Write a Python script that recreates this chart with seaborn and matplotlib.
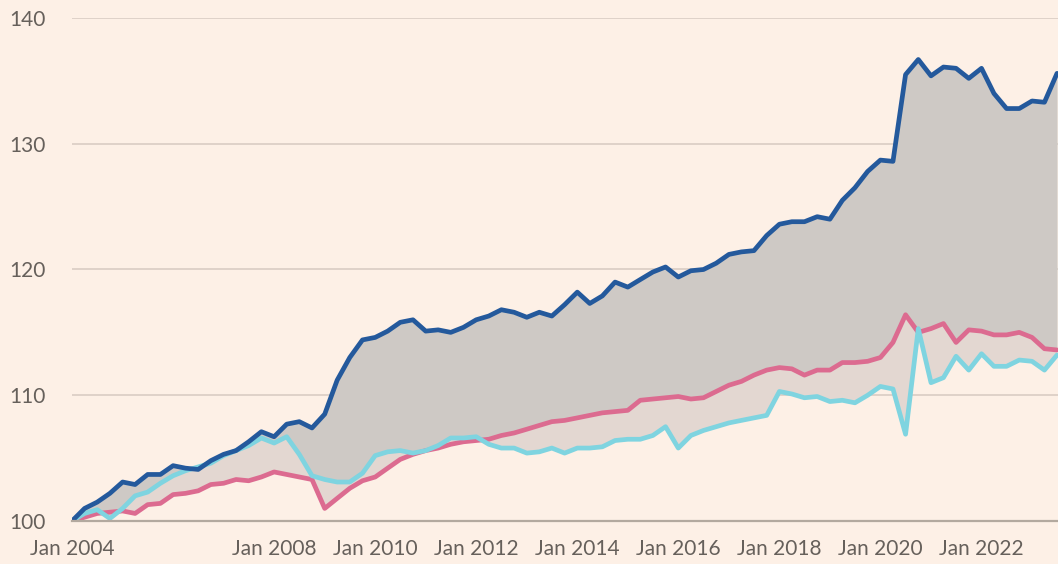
import pandas as pd
import numpy as np
import matplotlib
matplotlib.use("Agg")
import matplotlib.pyplot as plt
import seaborn as sns

# quarterly index values, Jan 2004 = 100
dates = pd.date_range("2004-01-01", "2023-07-01", freq="QS")

blue_vals = [
    100.0, 101.0, 101.5, 102.2,
    103.1, 102.9, 103.7, 103.7,
    104.4, 104.2, 104.1, 104.8,
    105.3, 105.6, 106.3, 107.1,
    106.7, 107.7, 107.9, 107.4,
    108.5, 111.2, 113.0, 114.4,
    114.6, 115.1, 115.8, 116.0,
    115.1, 115.2, 115.0, 115.4,
    116.0, 116.3, 116.8, 116.6,
    116.2, 116.6, 116.3, 117.2,
    118.2, 117.3, 117.9, 119.0,
    118.6, 119.2, 119.8, 120.2,
    119.4, 119.9, 120.0, 120.5,
    121.2, 121.4, 121.5, 122.7,
    123.6, 123.8, 123.8, 124.2,
    124.0, 125.5, 126.5, 127.8,
    128.7, 128.6, 135.5, 136.7,
    135.4, 136.1, 136.0, 135.2,
    136.0, 134.0, 132.8, 132.8,
    133.4, 133.3, 135.6,
]

pink_vals = [
    100.0, 100.3, 100.6, 100.7,
    100.8, 100.6, 101.3, 101.4,
    102.1, 102.2, 102.4, 102.9,
    103.0, 103.3, 103.2, 103.5,
    103.9, 103.7, 103.5, 103.3,
    101.0, 101.8, 102.6, 103.2,
    103.5, 104.2, 104.9, 105.3,
    105.6, 105.8, 106.1, 106.3,
    106.4, 106.5, 106.8, 107.0,
    107.3, 107.6, 107.9, 108.0,
    108.2, 108.4, 108.6, 108.7,
    108.8, 109.6, 109.7, 109.8,
    109.9, 109.7, 109.8, 110.3,
    110.8, 111.1, 111.6, 112.0,
    112.2, 112.1, 111.6, 112.0,
    112.0, 112.6, 112.6, 112.7,
    113.0, 114.2, 116.4, 115.0,
    115.3, 115.7, 114.2, 115.2,
    115.1, 114.8, 114.8, 115.0,
    114.6, 113.7, 113.6,
]

cyan_vals = [
    100.0, 100.6, 100.9, 100.2,
    101.0, 102.0, 102.3, 103.0,
    103.6, 104.0, 104.3, 104.6,
    105.2, 105.6, 106.0, 106.6,
    106.2, 106.7, 105.3, 103.6,
    103.3, 103.1, 103.1, 103.8,
    105.2, 105.5, 105.6, 105.4,
    105.6, 106.0, 106.6, 106.6,
    106.7, 106.1, 105.8, 105.8,
    105.4, 105.5, 105.8, 105.4,
    105.8, 105.8, 105.9, 106.4,
    106.5, 106.5, 106.8, 107.5,
    105.8, 106.8, 107.2, 107.5,
    107.8, 108.0, 108.2, 108.4,
    110.3, 110.1, 109.8, 109.9,
    109.5, 109.6, 109.4, 110.0,
    110.7, 110.5, 106.9, 115.3,
    111.0, 111.4, 113.1, 112.0,
    113.3, 112.3, 112.3, 112.8,
    112.7, 112.0, 113.2,
]

y_ticks = [100, 110, 120, 130, 140]
x_tick_years = [2004, 2006, 2008, 2010, 2012, 2014, 2016, 2018, 2020, 2022]
x_tick_labels = ["Jan 2004", "", "Jan 2008", "Jan 2010", "Jan 2012", "Jan 2014",
                 "Jan 2016", "Jan 2018", "Jan 2020", "Jan 2022"]

BG = "#fdf0e6"
BLUE = "#24599c"
PINK = "#dc6b90"
CYAN = "#7fd4e0"
TEXT = "#66605b"

df = pd.DataFrame({"date": dates, "blue": blue_vals, "pink": pink_vals, "cyan": cyan_vals})

sns.set_style("white", {"axes.facecolor": BG, "figure.facecolor": BG})
plt.rcParams["font.family"] = ["Lato", "DejaVu Sans"]

fig = plt.figure(figsize=(10.58, 5.64), dpi=100)
ax = fig.add_axes([72 / 1058, 43 / 564, 986 / 1058, 503 / 564])

# grid lines (under the fills)
for v in y_ticks[1:]:
    ax.axhline(v, color="#d9cdc4", lw=1.2, zorder=0)

upper_other = np.maximum(df["pink"], df["cyan"])
ax.fill_between(df["date"], df["pink"], df["cyan"], color="#e3d7d1", lw=0, zorder=1)
ax.fill_between(df["date"], df["blue"], upper_other, color="#cec9c5", lw=0, zorder=1)

line_kw = dict(lw=3.4, solid_capstyle="round", solid_joinstyle="round")
sns.lineplot(data=df, x="date", y="pink", color=PINK, ax=ax, zorder=3, **line_kw)
sns.lineplot(data=df, x="date", y="cyan", color=CYAN, ax=ax, zorder=4, **line_kw)
sns.lineplot(data=df, x="date", y="blue", color=BLUE, ax=ax, zorder=5, **line_kw)

ax.set_xlim(pd.Timestamp("2004-01-01"), pd.Timestamp("2023-07-08"))
ax.set_ylim(100, 140)
ax.set_xlabel("")
ax.set_ylabel("")

ax.set_yticks(y_ticks)
ax.set_yticklabels([str(v) for v in y_ticks])
ax.set_xticks([pd.Timestamp(f"{y}-01-01") for y in x_tick_years])
ax.set_xticklabels(x_tick_labels)

ax.tick_params(axis="y", length=0, pad=19, labelsize=15, labelcolor=TEXT)
ax.tick_params(axis="x", length=8, width=1.3, color="#b3a99f", direction="out",
               pad=5, labelsize=15, labelcolor=TEXT)

for side in ["top", "right", "left"]:
    ax.spines[side].set_visible(False)
ax.spines["bottom"].set_color("#b3a99f")
ax.spines["bottom"].set_linewidth(1.6)
ax.spines["bottom"].set_zorder(6)

fig.savefig("out.png", dpi=100, facecolor=BG)
